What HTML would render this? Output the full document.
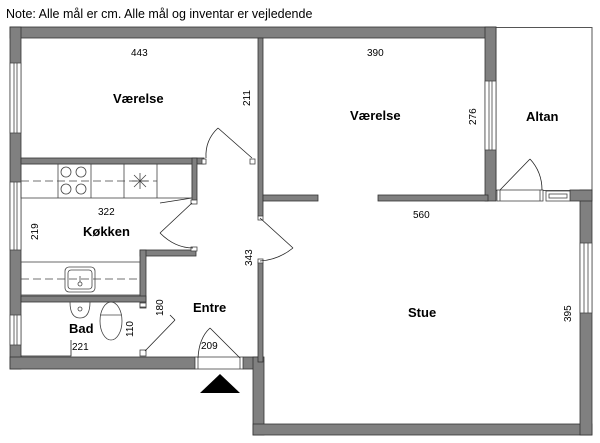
<!DOCTYPE html>
<html><head><meta charset="utf-8"><style>
html,body{margin:0;padding:0;background:#fff;}
svg{display:block;}
text{font-family:"Liberation Sans",Arial,sans-serif;fill:#000;}
.d{font-size:10px;}
.l{font-size:13px;font-weight:bold;}
</style></head><body>
<svg width="600" height="443" viewBox="0 0 600 443" xmlns="http://www.w3.org/2000/svg">
<text x="6" y="18" style="font-size:12.5px">Note: Alle mål er cm. Alle mål og inventar er vejledende</text>
<rect x="496" y="27.5" width="96" height="163" fill="none" stroke="#555" stroke-width="1"/>
<g fill="#808080" stroke="#333" stroke-width="0.8">
<rect x="10" y="27" width="486" height="11"/>
<rect x="10" y="27" width="11" height="342"/>
<rect x="10" y="357" width="185" height="12"/>
<rect x="243" y="357" width="20" height="12"/>
<rect x="253" y="357" width="11" height="78"/>
<rect x="253" y="424" width="339" height="11"/>
<rect x="580" y="190" width="12" height="245"/>
<rect x="570" y="190" width="22" height="11"/>
<rect x="485" y="27" width="11" height="174"/>
<rect x="258" y="38" width="5" height="178"/>
<rect x="258" y="262" width="5" height="100"/>
<rect x="263" y="195" width="55" height="6"/>
<rect x="378" y="195" width="110" height="6"/>
<rect x="21" y="158" width="183" height="6"/>
<rect x="192" y="158" width="5" height="42"/>
<rect x="140" y="250" width="56" height="6"/>
<rect x="140" y="250" width="6" height="58"/>
<rect x="21" y="296" width="125" height="6"/>
</g>
<g fill="#fff" stroke="#444" stroke-width="0.8">
<rect x="10" y="63" width="11" height="70"/><line x1="14" y1="63" x2="14" y2="133"/><line x1="17" y1="63" x2="17" y2="133"/>
<rect x="10" y="182" width="11" height="68"/><line x1="14" y1="182" x2="14" y2="250"/><line x1="17" y1="182" x2="17" y2="250"/>
<rect x="10" y="315" width="11" height="30"/><line x1="14" y1="315" x2="14" y2="345"/><line x1="17" y1="315" x2="17" y2="345"/>
<rect x="485" y="81" width="11" height="69"/><line x1="489" y1="81" x2="489" y2="150"/><line x1="492" y1="81" x2="492" y2="150"/>
<rect x="580" y="243" width="12" height="70"/><line x1="584" y1="243" x2="584" y2="313"/><line x1="588" y1="243" x2="588" y2="313"/>
<rect x="546" y="191" width="24" height="10"/><rect x="549" y="194" width="18" height="4"/>
<rect x="497" y="190" width="46" height="11"/>
<line x1="500" y1="190" x2="500" y2="201"/><line x1="540" y1="190" x2="540" y2="201"/>
<rect x="195" y="357" width="48" height="12"/>
<line x1="198" y1="357" x2="198" y2="369"/><line x1="240" y1="357" x2="240" y2="369"/>
<rect x="202" y="159" width="4" height="5"/><rect x="250" y="159" width="5" height="5"/>
<rect x="191" y="200" width="6" height="4"/><rect x="191" y="247" width="6" height="4"/>
<rect x="258" y="216" width="5" height="4"/><rect x="258" y="259" width="5" height="4"/>
<rect x="140" y="303" width="6" height="4"/><rect x="140" y="350" width="6" height="6"/>
</g>
<g fill="none" stroke="#222" stroke-width="0.8">
<path d="M252 158 L218 128"/><path d="M218 128 Q205 140 206 158"/>
<path d="M192 203 L160 233"/><path d="M160 233 Q175 248 193 248"/>
<path d="M160 203 L192 198"/>
<path d="M260 218 L293 248"/><path d="M293 248 Q278 260 260 261"/>
<path d="M145 351 L175 320"/><path d="M175 320 L170 315"/>
<path d="M500 190 L530 159"/><path d="M530 159 Q542 172 542 190"/>
<path d="M240 358 L210 328"/><path d="M210 328 Q199 338 198 358"/>
<path d="M21 356 L71 356 L71 340"/>
</g>
<g fill="none" stroke="#444" stroke-width="0.8">
<rect x="21" y="164" width="171" height="34"/>
<line x1="58" y1="164" x2="58" y2="198"/><line x1="91" y1="164" x2="91" y2="198"/>
<line x1="124" y1="164" x2="124" y2="198"/><line x1="157" y1="164" x2="157" y2="198"/>
<circle cx="66" cy="172" r="5"/><circle cx="81" cy="172" r="5"/>
<circle cx="66" cy="189" r="5"/><circle cx="81" cy="189" r="5"/>
<line x1="21" y1="181" x2="157" y2="181" stroke-dasharray="8,4"/>
<path d="M140 173 V189 M132 181 H148 M134 175 L146 187 M146 175 L134 187"/>
<rect x="21" y="262" width="119" height="33"/>
<line x1="21" y1="279" x2="140" y2="279" stroke-dasharray="8,4"/>
<rect x="65" y="267" width="30" height="25" rx="4"/><rect x="68" y="270" width="24" height="19" rx="3"/>
<circle cx="80" cy="284" r="2"/><line x1="80" y1="276" x2="80" y2="282"/>
<path d="M70 302 Q70 318 80 318 Q90 318 90 302"/><circle cx="80" cy="309" r="2"/>
<ellipse cx="111" cy="321" rx="11" ry="19"/><line x1="100" y1="315" x2="122" y2="315"/>
</g>
<polygon points="200,393 220,374 240,393" fill="#000"/>
<text class="d" x="131" y="56">443</text>
<text class="d" x="367" y="56">390</text>
<text class="d" x="413" y="218">560</text>
<text class="d" x="98" y="215">322</text>
<text class="d" x="72" y="350">221</text>
<text class="d" x="201" y="349">209</text>
<text class="d" transform="translate(250,106) rotate(-90)">211</text>
<text class="d" transform="translate(476,125) rotate(-90)">276</text>
<text class="d" transform="translate(38,240) rotate(-90)">219</text>
<text class="d" transform="translate(252,266) rotate(-90)">343</text>
<text class="d" transform="translate(163,316) rotate(-90)">180</text>
<text class="d" transform="translate(133,337) rotate(-90)">110</text>
<text class="d" transform="translate(571,322) rotate(-90)">395</text>
<text class="l" x="113" y="103">Værelse</text>
<text class="l" x="350" y="120">Værelse</text>
<text class="l" x="526" y="121">Altan</text>
<text class="l" x="83" y="236">Køkken</text>
<text class="l" x="193" y="312">Entre</text>
<text class="l" x="69" y="333">Bad</text>
<text class="l" x="408" y="317">Stue</text>
</svg>
</body></html>
